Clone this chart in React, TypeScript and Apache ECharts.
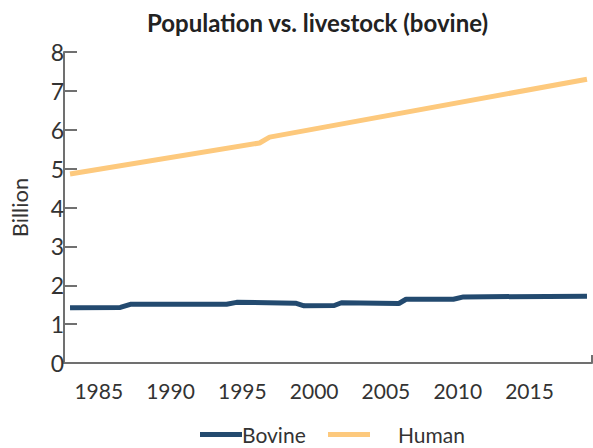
import React, { useEffect, useRef } from "react";
import * as echarts from "echarts";

const bovineYears = [1983, 1986.5, 1987.2, 1993.9, 1994.6, 1998.7, 1999.3, 2001.4, 2001.9, 2005.9, 2006.4, 2009.7, 2010.4, 2019];
const bovineValues = [1.42, 1.43, 1.51, 1.51, 1.56, 1.54, 1.47, 1.48, 1.55, 1.53, 1.64, 1.64, 1.70, 1.72];
const humanYears = [1983, 1996.2, 1996.9, 2019];
const humanValues = [4.86, 5.66, 5.81, 7.3];
const xTickLabels = [1985, 1990, 1995, 2000, 2005, 2010, 2015];
const yTicks = [0, 1, 2, 3, 4, 5, 6, 7, 8];

const FONT = "Lato";

export default function App() {
  const ref = useRef<HTMLDivElement>(null);
  useEffect(() => {
    if (!ref.current) return;
    const chart = echarts.init(ref.current, null, { renderer: "svg" });
    const xMin = 1982.58;
    const xMax = 2019.35;
    chart.setOption({
      animation: false,
      title: {
        text: "Population vs. livestock (bovine)",
        left: 142,
        top: 5,
        textStyle: { fontFamily: FONT, fontWeight: "bold", fontSize: 24, color: "#222" },
      },
      legend: [
        {
          data: ["Bovine"],
          left: 195,
          top: 419,
          icon: "rect",
          itemWidth: 42,
          itemHeight: 5,
          itemGap: 0,
          textStyle: { fontFamily: FONT, fontSize: 21, color: "#333", padding: [0, 0, 0, -5] },
        },
        {
          data: ["Human"],
          left: 323,
          top: 419,
          icon: "rect",
          itemWidth: 42,
          itemHeight: 5,
          textStyle: { fontFamily: FONT, fontSize: 21, color: "#333", padding: [0, 0, 0, 23] },
        },
      ],
      grid: { left: 61, right: 1, top: 52, bottom: 85, containLabel: false },
      xAxis: {
        type: "value",
        min: xMin,
        max: xMax,
        axisLine: { show: true, lineStyle: { color: "#707070", width: 2 } },
        axisTick: { show: true, inside: true, length: 8, customValues: [xMax], lineStyle: { color: "#707070", width: 2 } },
        splitLine: { show: false },
        axisLabel: {
          customValues: xTickLabels,
          formatter: (v: number) => String(Math.round(v)),
          fontFamily: FONT,
          fontSize: 21,
          color: "#333",
          margin: 17,
        },
      },
      yAxis: {
        type: "value",
        min: 0,
        max: 8,
        interval: 1,
        name: "Billion",
        nameLocation: "middle",
        nameGap: 34,
        nameRotate: 90,
        nameTextStyle: { fontFamily: FONT, fontSize: 22, color: "#333" },
        axisLine: { show: true, lineStyle: { color: "#707070", width: 2 } },
        axisTick: { show: true, inside: true, length: 13, lineStyle: { color: "#707070", width: 2 } },
        splitLine: { show: false },
        axisLabel: {
          fontFamily: FONT,
          fontSize: 23,
          color: "#333",
          margin: 0,
          padding: [10, 0, 0, 0],
          formatter: (v: number) => (yTicks.includes(v) ? String(v) : ""),
        },
      },
      series: [
        {
          name: "Bovine",
          type: "line",
          data: bovineYears.map((y, i) => [y, bovineValues[i]]),
          showSymbol: false,
          symbol: "none",
          lineStyle: { color: "#234a6f", width: 5 },
          itemStyle: { color: "#234a6f" },
        },
        {
          name: "Human",
          type: "line",
          data: humanYears.map((y, i) => [y, humanValues[i]]),
          showSymbol: false,
          symbol: "none",
          lineStyle: { color: "#fdc97d", width: 5 },
          itemStyle: { color: "#fdc97d" },
        },
      ],
    });
    return () => chart.dispose();
  }, []);
  return <div ref={ref} style={{ width: 593, height: 448, position: "absolute", left: 0, top: 0 }} />;
}
